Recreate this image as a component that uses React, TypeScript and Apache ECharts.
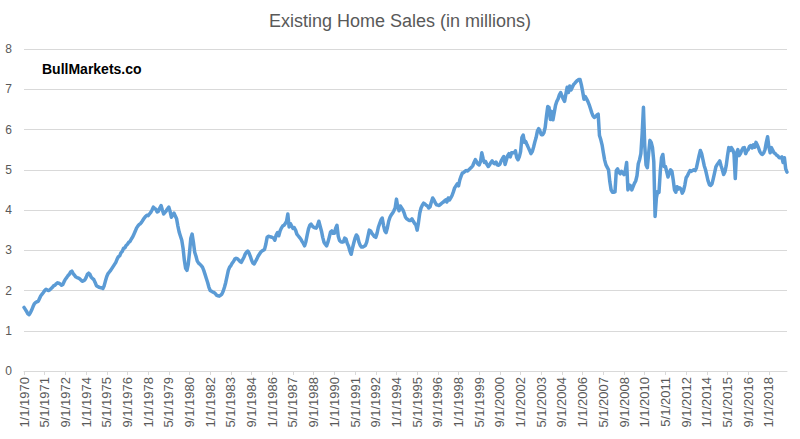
import React, { useEffect, useRef } from "react";
import * as echarts from "echarts";

const TITLE = "Existing Home Sales (in millions)";
const WATERMARK = "BullMarkets.co";
const START_YEAR = 1970;

// Monthly existing home sales (millions, SAAR), Jan 1970 – Mar 2019
const sales1970s = [
  1.58, 1.53, 1.48, 1.42, 1.40, 1.45, 1.52, 1.60, 1.67, 1.70, 1.72, 1.73,
  1.80, 1.87, 1.91, 1.95, 2.00, 2.03, 2.01, 2.00, 2.02, 2.05, 2.08, 2.12,
  2.13, 2.17, 2.19, 2.18, 2.16, 2.13, 2.15, 2.22, 2.28, 2.32, 2.37, 2.40,
  2.46, 2.48, 2.42, 2.38, 2.34, 2.32, 2.31, 2.29, 2.26, 2.23, 2.24, 2.26,
  2.32, 2.40, 2.43, 2.40, 2.33, 2.30, 2.27, 2.20, 2.12, 2.10, 2.08, 2.07,
  2.07, 2.05, 2.12, 2.24, 2.35, 2.42, 2.46, 2.50, 2.55, 2.60, 2.65, 2.70,
  2.78, 2.84, 2.86, 2.94, 2.97, 3.05, 3.06, 3.12, 3.15, 3.20, 3.22, 3.28,
  3.33, 3.40, 3.47, 3.55, 3.60, 3.64, 3.66, 3.70, 3.75, 3.80, 3.84, 3.87,
  3.86, 3.90, 3.94, 4.00, 4.07, 4.04, 4.02, 3.95, 3.97, 4.05, 4.11, 4.00,
  3.90, 3.94, 3.98, 4.03, 4.07, 3.96, 3.82, 3.88, 3.92, 3.85, 3.78, 3.60,
];
const sales1980s = [
  3.45, 3.35, 3.25, 3.05, 2.75, 2.55, 2.50, 2.65, 2.95, 3.30, 3.40, 3.20,
  2.95, 2.85, 2.73, 2.68, 2.65, 2.62, 2.58, 2.50, 2.40, 2.30, 2.20, 2.08,
  2.00, 1.98, 1.96, 1.95, 1.92, 1.88, 1.87, 1.86, 1.88, 1.91, 1.98, 2.08,
  2.20, 2.35, 2.50, 2.58, 2.62, 2.68, 2.72, 2.78, 2.80, 2.79, 2.76, 2.72,
  2.70, 2.76, 2.82, 2.90, 2.95, 2.98, 2.93, 2.85, 2.75, 2.68, 2.66, 2.72,
  2.78, 2.85, 2.90, 2.95, 2.98, 3.00, 3.02, 3.15, 3.32, 3.35, 3.34, 3.33,
  3.32, 3.30, 3.25, 3.38, 3.44, 3.36, 3.48, 3.55, 3.60, 3.62, 3.66, 3.72,
  3.90, 3.58, 3.66, 3.60, 3.54, 3.56, 3.50, 3.40, 3.36, 3.32, 3.28, 3.22,
  3.17, 3.11, 3.22, 3.38, 3.53, 3.62, 3.65, 3.60, 3.57, 3.56, 3.55, 3.62,
  3.72, 3.60, 3.48, 3.32, 3.20, 3.15, 3.11, 3.20, 3.32, 3.45, 3.48, 3.42,
];
const sales1990s = [
  3.42, 3.55, 3.62, 3.35, 3.24, 3.21, 3.20, 3.21, 3.30, 3.28, 3.17, 3.10,
  2.98, 2.90, 3.05, 3.18, 3.30, 3.38, 3.34, 3.20, 3.12, 3.08, 3.08, 3.10,
  3.12, 3.20, 3.35, 3.50, 3.48, 3.42, 3.38, 3.34, 3.32, 3.42, 3.57, 3.66,
  3.75, 3.80, 3.62, 3.48, 3.44, 3.56, 3.72, 3.82, 3.88, 3.92, 3.98, 4.05,
  4.27, 4.08, 3.98, 4.10, 4.05, 4.00, 3.92, 3.82, 3.78, 3.76, 3.74, 3.74,
  3.78, 3.72, 3.67, 3.63, 3.50, 3.68, 3.92, 4.05, 4.12, 4.17, 4.15, 4.12,
  4.10, 4.05, 4.08, 4.20, 4.30, 4.25, 4.18, 4.13, 4.12, 4.11, 4.14, 4.17,
  4.19, 4.22, 4.25, 4.20, 4.30, 4.25, 4.30, 4.36, 4.45, 4.55, 4.60, 4.65,
  4.60, 4.75, 4.84, 4.92, 4.93, 4.96, 4.98, 4.97, 5.00, 5.03, 5.06, 5.10,
  5.18, 5.25, 5.20, 5.14, 5.12, 5.20, 5.42, 5.28, 5.18, 5.20, 5.13, 5.08,
];
const sales2000s = [
  5.12, 5.18, 5.22, 5.17, 5.15, 5.19, 5.12, 5.11, 5.14, 5.22, 5.28, 5.33,
  5.13, 5.24, 5.35, 5.40, 5.32, 5.42, 5.42, 5.42, 5.47, 5.30, 5.25, 5.32,
  5.45, 5.80, 5.86, 5.68, 5.70, 5.62, 5.55, 5.48, 5.40, 5.45, 5.56, 5.69,
  5.80, 5.96, 6.02, 5.96, 5.87, 5.87, 5.92, 6.05, 6.33, 6.57, 6.55, 6.25,
  6.45, 6.24, 6.42, 6.60, 6.70, 6.76, 6.86, 6.92, 6.83, 6.76, 6.70, 6.88,
  7.05, 6.92, 7.08, 6.98, 7.05, 7.12, 7.15, 7.19, 7.22, 7.24, 7.24, 7.11,
  6.94, 6.75, 6.82, 6.76, 6.70, 6.62, 6.52, 6.42, 6.34, 6.30, 6.32, 6.36,
  6.38, 5.85, 5.75, 5.62, 5.42, 5.24, 5.12, 5.06, 5.00, 4.70, 4.50, 4.44,
  4.44, 4.45, 4.98, 5.02, 4.94, 4.90, 4.96, 4.92, 4.88, 4.98, 5.18, 4.50,
  4.62, 4.60, 4.50, 4.58, 4.66, 4.72, 4.85, 5.15, 5.25, 5.40, 5.90, 6.55,
];
const sales2010s = [
  5.60, 5.12, 5.05, 5.40, 5.73, 5.68, 5.55, 5.20, 3.84, 4.30, 4.46, 4.44,
  4.95, 5.30, 5.38, 5.08, 5.08, 4.95, 4.82, 4.92, 5.00, 4.96, 4.75, 4.50,
  4.44, 4.58, 4.52, 4.55, 4.52, 4.42, 4.48, 4.62, 4.80, 4.85, 4.92, 4.98,
  4.96, 4.98, 5.00, 4.98, 5.05, 5.20, 5.35, 5.48, 5.40, 5.25, 5.10, 5.00,
  4.86, 4.72, 4.63, 4.61, 4.65, 4.78, 4.92, 5.07, 5.13, 5.17, 5.22, 5.10,
  5.00, 4.88, 4.95, 5.10, 5.35, 5.55, 5.48, 5.55, 5.50, 5.40, 4.78, 5.42,
  5.50, 5.35, 5.40, 5.48, 5.54, 5.55, 5.40, 5.47, 5.50, 5.58, 5.60, 5.54,
  5.62, 5.56, 5.68, 5.62, 5.54, 5.45, 5.40, 5.38, 5.42, 5.50, 5.68, 5.82,
  5.56, 5.42, 5.55, 5.48, 5.42, 5.40, 5.36, 5.34, 5.30, 5.30, 5.32, 5.18,
  5.30, 5.02, 4.94,
];

const sales = [...sales1970s, ...sales1980s, ...sales1990s, ...sales2000s, ...sales2010s];

const categories = sales.map((_, i) => {
  const y = START_YEAR + Math.floor(i / 12);
  const m = (i % 12) + 1;
  return `${m}/1/${y}`;
});

const FONT = "'Liberation Sans', Arial, sans-serif";

export default function App() {
  const ref = useRef<HTMLDivElement>(null);

  useEffect(() => {
    document.body.style.margin = "0";
    if (!ref.current) return;
    const chart = echarts.init(ref.current, undefined, { renderer: "svg" });
    chart.setOption({
      animation: false,
      backgroundColor: "#ffffff",
      textStyle: { fontFamily: FONT },
      title: {
        text: TITLE,
        left: "center",
        top: 7,
        textStyle: { fontSize: 18, fontWeight: "normal", color: "#595959", fontFamily: FONT },
      },
      graphic: [
        {
          type: "text",
          left: 42,
          top: 62,
          style: { text: WATERMARK, font: `bold 14px ${FONT}`, fill: "#000000" },
        },
      ],
      grid: { left: 24, right: 13, top: 49, bottom: 68, containLabel: false },
      xAxis: {
        type: "category",
        data: categories,
        boundaryGap: false,
        axisLine: { lineStyle: { color: "#d9d9d9", width: 1 } },
        axisTick: { interval: 15, length: 4, lineStyle: { color: "#d9d9d9" } },
        axisLabel: {
          interval: 15,
          rotate: 90,
          color: "#595959",
          fontSize: 13,
          margin: 6,
          fontFamily: FONT,
        },
        splitLine: { show: false },
      },
      yAxis: {
        type: "value",
        min: 0,
        max: 8,
        interval: 1,
        axisLine: { show: false },
        axisTick: { show: false },
        axisLabel: { color: "#595959", fontSize: 12, margin: 12, fontFamily: FONT },
        splitLine: { lineStyle: { color: "#d9d9d9", width: 1 } },
      },
      series: [
        {
          type: "line",
          data: sales,
          showSymbol: false,
          symbol: "none",
          lineStyle: { color: "#5B9BD5", width: 3.5, join: "round", cap: "round" },
          itemStyle: { color: "#5B9BD5" },
        },
      ],
    });
    return () => chart.dispose();
  }, []);

  return <div ref={ref} style={{ width: 800, height: 439 }} />;
}
